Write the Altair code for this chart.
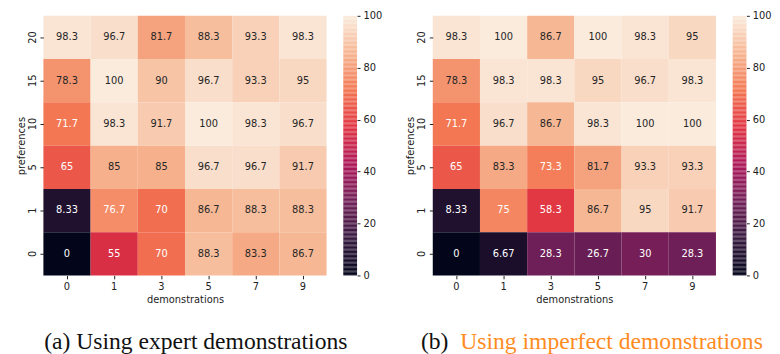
import altair as alt
import pandas as pd
import numpy as np

demos = ["0", "1", "3", "5", "7", "9"]
prefs = ["20", "15", "10", "5", "1", "0"]

expert = [
    [98.3, 96.7, 81.7, 88.3, 93.3, 98.3],
    [78.3, 100, 90, 96.7, 93.3, 95],
    [71.7, 98.3, 91.7, 100, 98.3, 96.7],
    [65, 85, 85, 96.7, 96.7, 91.7],
    [8.33, 76.7, 70, 86.7, 88.3, 88.3],
    [0, 55, 70, 88.3, 83.3, 86.7],
]
imperfect = [
    [98.3, 100, 86.7, 100, 98.3, 95],
    [78.3, 98.3, 98.3, 95, 96.7, 98.3],
    [71.7, 96.7, 86.7, 98.3, 100, 100],
    [65, 83.3, 73.3, 81.7, 93.3, 93.3],
    [8.33, 75, 58.3, 86.7, 95, 91.7],
    [0, 6.67, 28.3, 26.7, 30, 28.3],
]
cbar_ticks = [0, 20, 40, 60, 80, 100]

# seaborn "rocket" colormap stops
rocket_stops = [0, 100 / 7, 200 / 7, 300 / 7, 400 / 7, 500 / 7, 600 / 7, 100]
rocket_colors = ["#03051a", "#35193e", "#701f57", "#ad1759", "#e13342",
                 "#f37651", "#f6b48f", "#faebdd"]
cscale = alt.Scale(domain=rocket_stops, range=rocket_colors, interpolate="rgb")

FONT = "DejaVu Sans"
FS = 10
W, H = 288, 264


def frame(mat):
    rows = []
    for i, p in enumerate(prefs):
        for j, d in enumerate(demos):
            rows.append({"pref": p, "demo": d, "v": mat[i][j]})
    return pd.DataFrame(rows)


def heat(mat):
    base = alt.Chart(frame(mat)).encode(
        x=alt.X("demo:N", sort=demos,
                scale=alt.Scale(paddingInner=0, paddingOuter=0),
                axis=alt.Axis(title="demonstrations", labelAngle=0, domain=False,
                              tickSize=3.5, tickColor="#222", labelColor="#222",
                              titleColor="#222", labelFont=FONT, titleFont=FONT,
                              labelFontSize=FS, titleFontSize=FS,
                              titleFontWeight="normal", labelPadding=3,
                              titlePadding=3)),
        y=alt.Y("pref:N", sort=prefs,
                scale=alt.Scale(paddingInner=0, paddingOuter=0),
                axis=alt.Axis(title="preferences", labelAngle=270, domain=False,
                              tickSize=3.5, tickColor="#222", labelColor="#222",
                              titleColor="#222", labelFont=FONT, titleFont=FONT,
                              labelFontSize=FS, titleFontSize=FS,
                              titleFontWeight="normal", labelPadding=3,
                              labelBaseline="bottom", labelAlign="center",
                              titlePadding=1)),
    )
    rect = base.mark_rect().encode(color=alt.Color("v:Q", scale=cscale, legend=None))
    txt = base.mark_text(font=FONT, fontSize=FS).encode(
        text=alt.Text("v:Q", format=".3~r"),
        color=alt.condition(alt.datum.v < 77.5, alt.value("#ffffff"), alt.value("#262626")),
    )
    return (rect + txt).properties(width=W, height=H)


lo = np.arange(0, 100, 0.5)
cb_df = pd.DataFrame({"lo": lo, "hi": lo + 0.5, "mid": lo + 0.25})


def cbar():
    return alt.Chart(cb_df).mark_rect().encode(
        y=alt.Y("lo:Q", scale=alt.Scale(domain=[0, 100], nice=False, zero=False),
                axis=alt.Axis(orient="right", values=cbar_ticks, title=None,
                              domain=False, grid=False, tickSize=3,
                              tickColor="#222", labelColor="#222",
                              labelFont=FONT, labelFontSize=FS, labelPadding=3)),
        y2="hi:Q",
        color=alt.Color("mid:Q", scale=cscale, legend=None),
    ).properties(width=14, height=H)


spacer = alt.Chart(pd.DataFrame({"a": [0]})).mark_point(opacity=0, size=1).encode(
    x=alt.value(0), y=alt.value(0)
).properties(width=43, height=H)

row = alt.hconcat(
    heat(expert), cbar(), spacer, heat(imperfect), cbar(),
    spacing=17, bounds="flush",
)

cap_text = ["(a) Using expert demonstrations", "(b)", "Using imperfect demonstrations"]
cap_color = ["#111111", "#111111", "#ff8c1f"]
cap_x = [155, 384, 424]
cap_align = ["center", "left", "left"]

caps = []
for t, c, x, a in zip(cap_text, cap_color, cap_x, cap_align):
    caps.append(
        alt.Chart(pd.DataFrame({"t": [t]})).mark_text(
            font="Liberation Serif", fontSize=24, baseline="alphabetic",
            align=a, color=c
        ).encode(text="t:N", x=alt.value(x), y=alt.value(45))
    )
cap_chart = alt.layer(*caps).properties(width=700, height=32)

chart = alt.vconcat(row, cap_chart, spacing=0).properties(
    padding={"left": 8, "top": 0, "right": 0, "bottom": 0}
).configure_view(strokeWidth=0)

chart.save("out.html", embed_options={"renderer": "svg", "actions": False})
